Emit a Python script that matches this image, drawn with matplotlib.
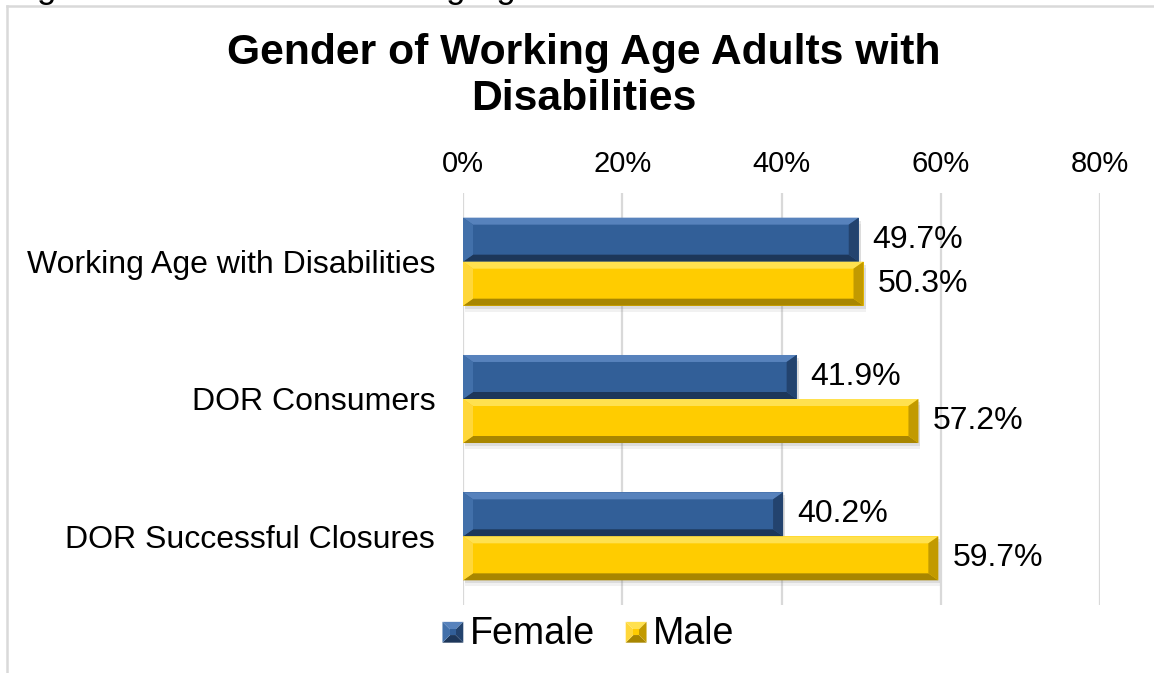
import matplotlib.pyplot as plt
from matplotlib.patches import Polygon, Rectangle
from matplotlib.legend_handler import HandlerBase
from matplotlib.lines import Line2D

plt.rcParams['font.family'] = ['Liberation Sans', 'DejaVu Sans']

categories = ['Working Age with Disabilities', 'DOR Consumers', 'DOR Successful Closures']
female = [49.7, 41.9, 40.2]
male = [50.3, 57.2, 59.7]
x_ticks = [0, 20, 40, 60, 80]
series_names = ['Female', 'Male']

# face, top, bottom, left, right
blue = dict(face='#325F98', top='#5782BC', bottom='#1D375A', left='#4270AA', right='#23436E')
gold = dict(face='#FFCC00', top='#FFE14F', bottom='#A88600', left='#FFD73A', right='#C29A00')

W, H = 1154, 673
fig = plt.figure(figsize=(W / 100, H / 100), dpi=100)
ax = fig.add_axes([463 / W, 1 - 605 / H, (1100 - 463) / W, (605 - 193) / H])
ax.set_xlim(0, 80)
ax.set_ylim(2.5, -0.5)

px_x = 80 / 637
px_y = 3 / 412
h = 44 / 137.3


def bevel(ax, rect, pal):
    x0, y0 = rect.get_x(), rect.get_y()
    w, hh = rect.get_width(), rect.get_height()
    x1, y1 = x0 + w, y0 + hh
    bx, by = 10 * px_x, 7 * px_y
    # soft drop shadow under the bar
    for k, a in [(6, 0.10), (3, 0.18)]:
        ax.add_patch(Rectangle((x0 + 2 * px_x, y0 + k * px_y), w, hh,
                               color='#7F7F7F', alpha=a, lw=0, zorder=1))
    polys = [
        ([(x0, y0), (x1, y0), (x1 - bx, y0 + by), (x0 + bx, y0 + by)], pal['top']),
        ([(x0, y1), (x1, y1), (x1 - bx, y1 - by), (x0 + bx, y1 - by)], pal['bottom']),
        ([(x0, y0), (x0 + bx, y0 + by), (x0 + bx, y1 - by), (x0, y1)], pal['left']),
        ([(x1, y0), (x1 - bx, y0 + by), (x1 - bx, y1 - by), (x1, y1)], pal['right']),
    ]
    for pts, c in polys:
        ax.add_patch(Polygon(pts, closed=True, facecolor=c, edgecolor='none', zorder=3))


y = list(range(len(categories)))
bars_f = ax.barh([v - h / 2 for v in y], female, height=h, color=blue['face'], zorder=2)
bars_m = ax.barh([v + h / 2 for v in y], male, height=h, color=gold['face'], zorder=2)
for r in bars_f:
    bevel(ax, r, blue)
for r in bars_m:
    bevel(ax, r, gold)

ax.bar_label(bars_f, labels=[f'{v:.1f}%' for v in female], padding=10, fontsize=23)
ax.bar_label(bars_m, labels=[f'{v:.1f}%' for v in male], padding=10, fontsize=23)

ax.set_xticks(x_ticks)
ax.set_xticklabels([f'{t}%' for t in x_ticks], fontsize=21)
ax.xaxis.tick_top()
ax.set_yticks(y)
ax.set_yticklabels(categories, fontsize=23)
ax.tick_params(axis='x', length=0, pad=11)
ax.tick_params(axis='y', length=0, pad=20)
ax.grid(axis='x', color='#D9D9D9', lw=1.6)
ax.set_axisbelow(True)
for s in ax.spines.values():
    s.set_visible(False)

fig.text(584 / W, 1 - 76 / H, 'Gender of Working Age Adults with\nDisabilities',
         ha='center', va='center', fontsize=30.7, fontweight='bold', linespacing=1.2)

# caption above the chart frame, mostly cut off by the page edge
fig.text(8 / W, 1 + 2 / H, 'Figure 12: Gender of Working Age Adults with Disabilities',
         ha='left', va='baseline', fontsize=25)

# chart frame
fig.add_artist(Line2D([7 / W, 1], [1 - 6 / H, 1 - 6 / H], color='#D9D9D9', lw=1.8))
fig.add_artist(Line2D([7 / W, 7 / W], [1 - 6 / H, 0.001], color='#D9D9D9', lw=1.8))


class BevelSquare(HandlerBase):
    def __init__(self, pal):
        super().__init__()
        self.pal = pal

    def create_artists(self, legend, orig_handle, xdescent, ydescent,
                       width, height, fontsize, trans):
        s = 15
        x0 = -xdescent + (width - s) / 2
        y0 = -ydescent + (height - s) / 2 - 1
        x1, y1 = x0 + s, y0 + s
        b = 5.5
        p = self.pal
        pieces = [
            ([(x0, y1), (x1, y1), (x1 - b, y1 - b), (x0 + b, y1 - b)], p['top']),
            ([(x0, y0), (x1, y0), (x1 - b, y0 + b), (x0 + b, y0 + b)], p['bottom']),
            ([(x0, y0), (x0 + b, y0 + b), (x0 + b, y1 - b), (x0, y1)], p['left']),
            ([(x1, y0), (x1 - b, y0 + b), (x1 - b, y1 - b), (x1, y1)], p['right']),
            ([(x0 + b, y0 + b), (x1 - b, y0 + b), (x1 - b, y1 - b), (x0 + b, y1 - b)], p['face']),
        ]
        return [Polygon(pts, closed=True, facecolor=c, edgecolor='none', transform=trans)
                for pts, c in pieces]


fig.legend([bars_f, bars_m], series_names, loc='center',
           bbox_to_anchor=(588 / W, 1 - 634 / H), ncol=2, frameon=False,
           fontsize=27, handlelength=0.6, handletextpad=0.15, columnspacing=0.8,
           handler_map={bars_f: BevelSquare(blue), bars_m: BevelSquare(gold)})

fig.savefig('out.png', dpi=100)
